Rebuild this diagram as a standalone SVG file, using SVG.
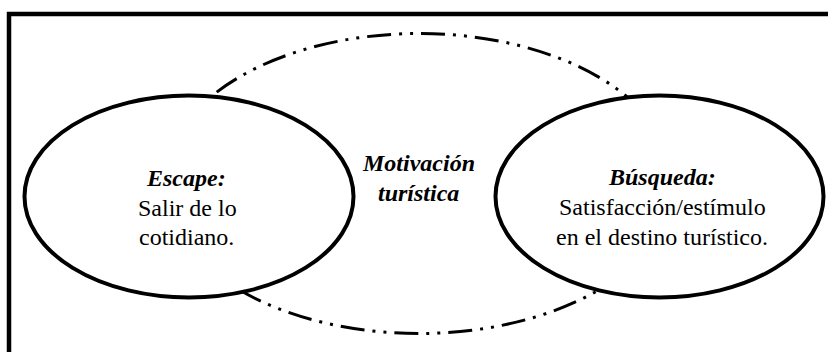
<svg xmlns="http://www.w3.org/2000/svg" width="828" height="352" viewBox="0 0 828 352">
<rect x="0" y="0" width="828" height="352" fill="#fff"/>
<rect id="frame" x="9" y="14" width="850" height="370" fill="none" stroke="#000" stroke-width="4.5"/>
<g id="connectors" fill="none" stroke="#000" stroke-width="3" stroke-dasharray="24 8 3 8 3 8">
<ellipse cx="419" cy="183.5" rx="255" ry="150"/>
</g>
<g id="motivacion">
<text x="363" y="171" style="font-family:'Liberation Serif';font-size:24px;font-weight:bold;font-style:italic">Motivación</text>
<text x="378" y="201" style="font-family:'Liberation Serif';font-size:24px;font-weight:bold;font-style:italic">turística</text>
</g>
<g id="escape">
<ellipse cx="189" cy="196.5" rx="164.5" ry="101" fill="#fff" stroke="#000" stroke-width="4"/>
<text x="147" y="186" style="font-family:'Liberation Serif';font-size:24px;font-weight:bold;font-style:italic">Escape:</text>
<text x="138" y="216" style="font-family:'Liberation Serif';font-size:24px">Salir de lo</text>
<text x="139" y="245" style="font-family:'Liberation Serif';font-size:24px">cotidiano.</text>
</g>
<g id="busqueda">
<ellipse cx="659.5" cy="196.5" rx="164" ry="101" fill="#fff" stroke="#000" stroke-width="4"/>
<text x="609" y="185" style="font-family:'Liberation Serif';font-size:24px;font-weight:bold;font-style:italic">Búsqueda:</text>
<text x="559" y="215" style="font-family:'Liberation Serif';font-size:24px">Satisfacción/estímulo</text>
<text x="556" y="245" style="font-family:'Liberation Serif';font-size:24px">en el destino turístico.</text>
</g>
</svg>
